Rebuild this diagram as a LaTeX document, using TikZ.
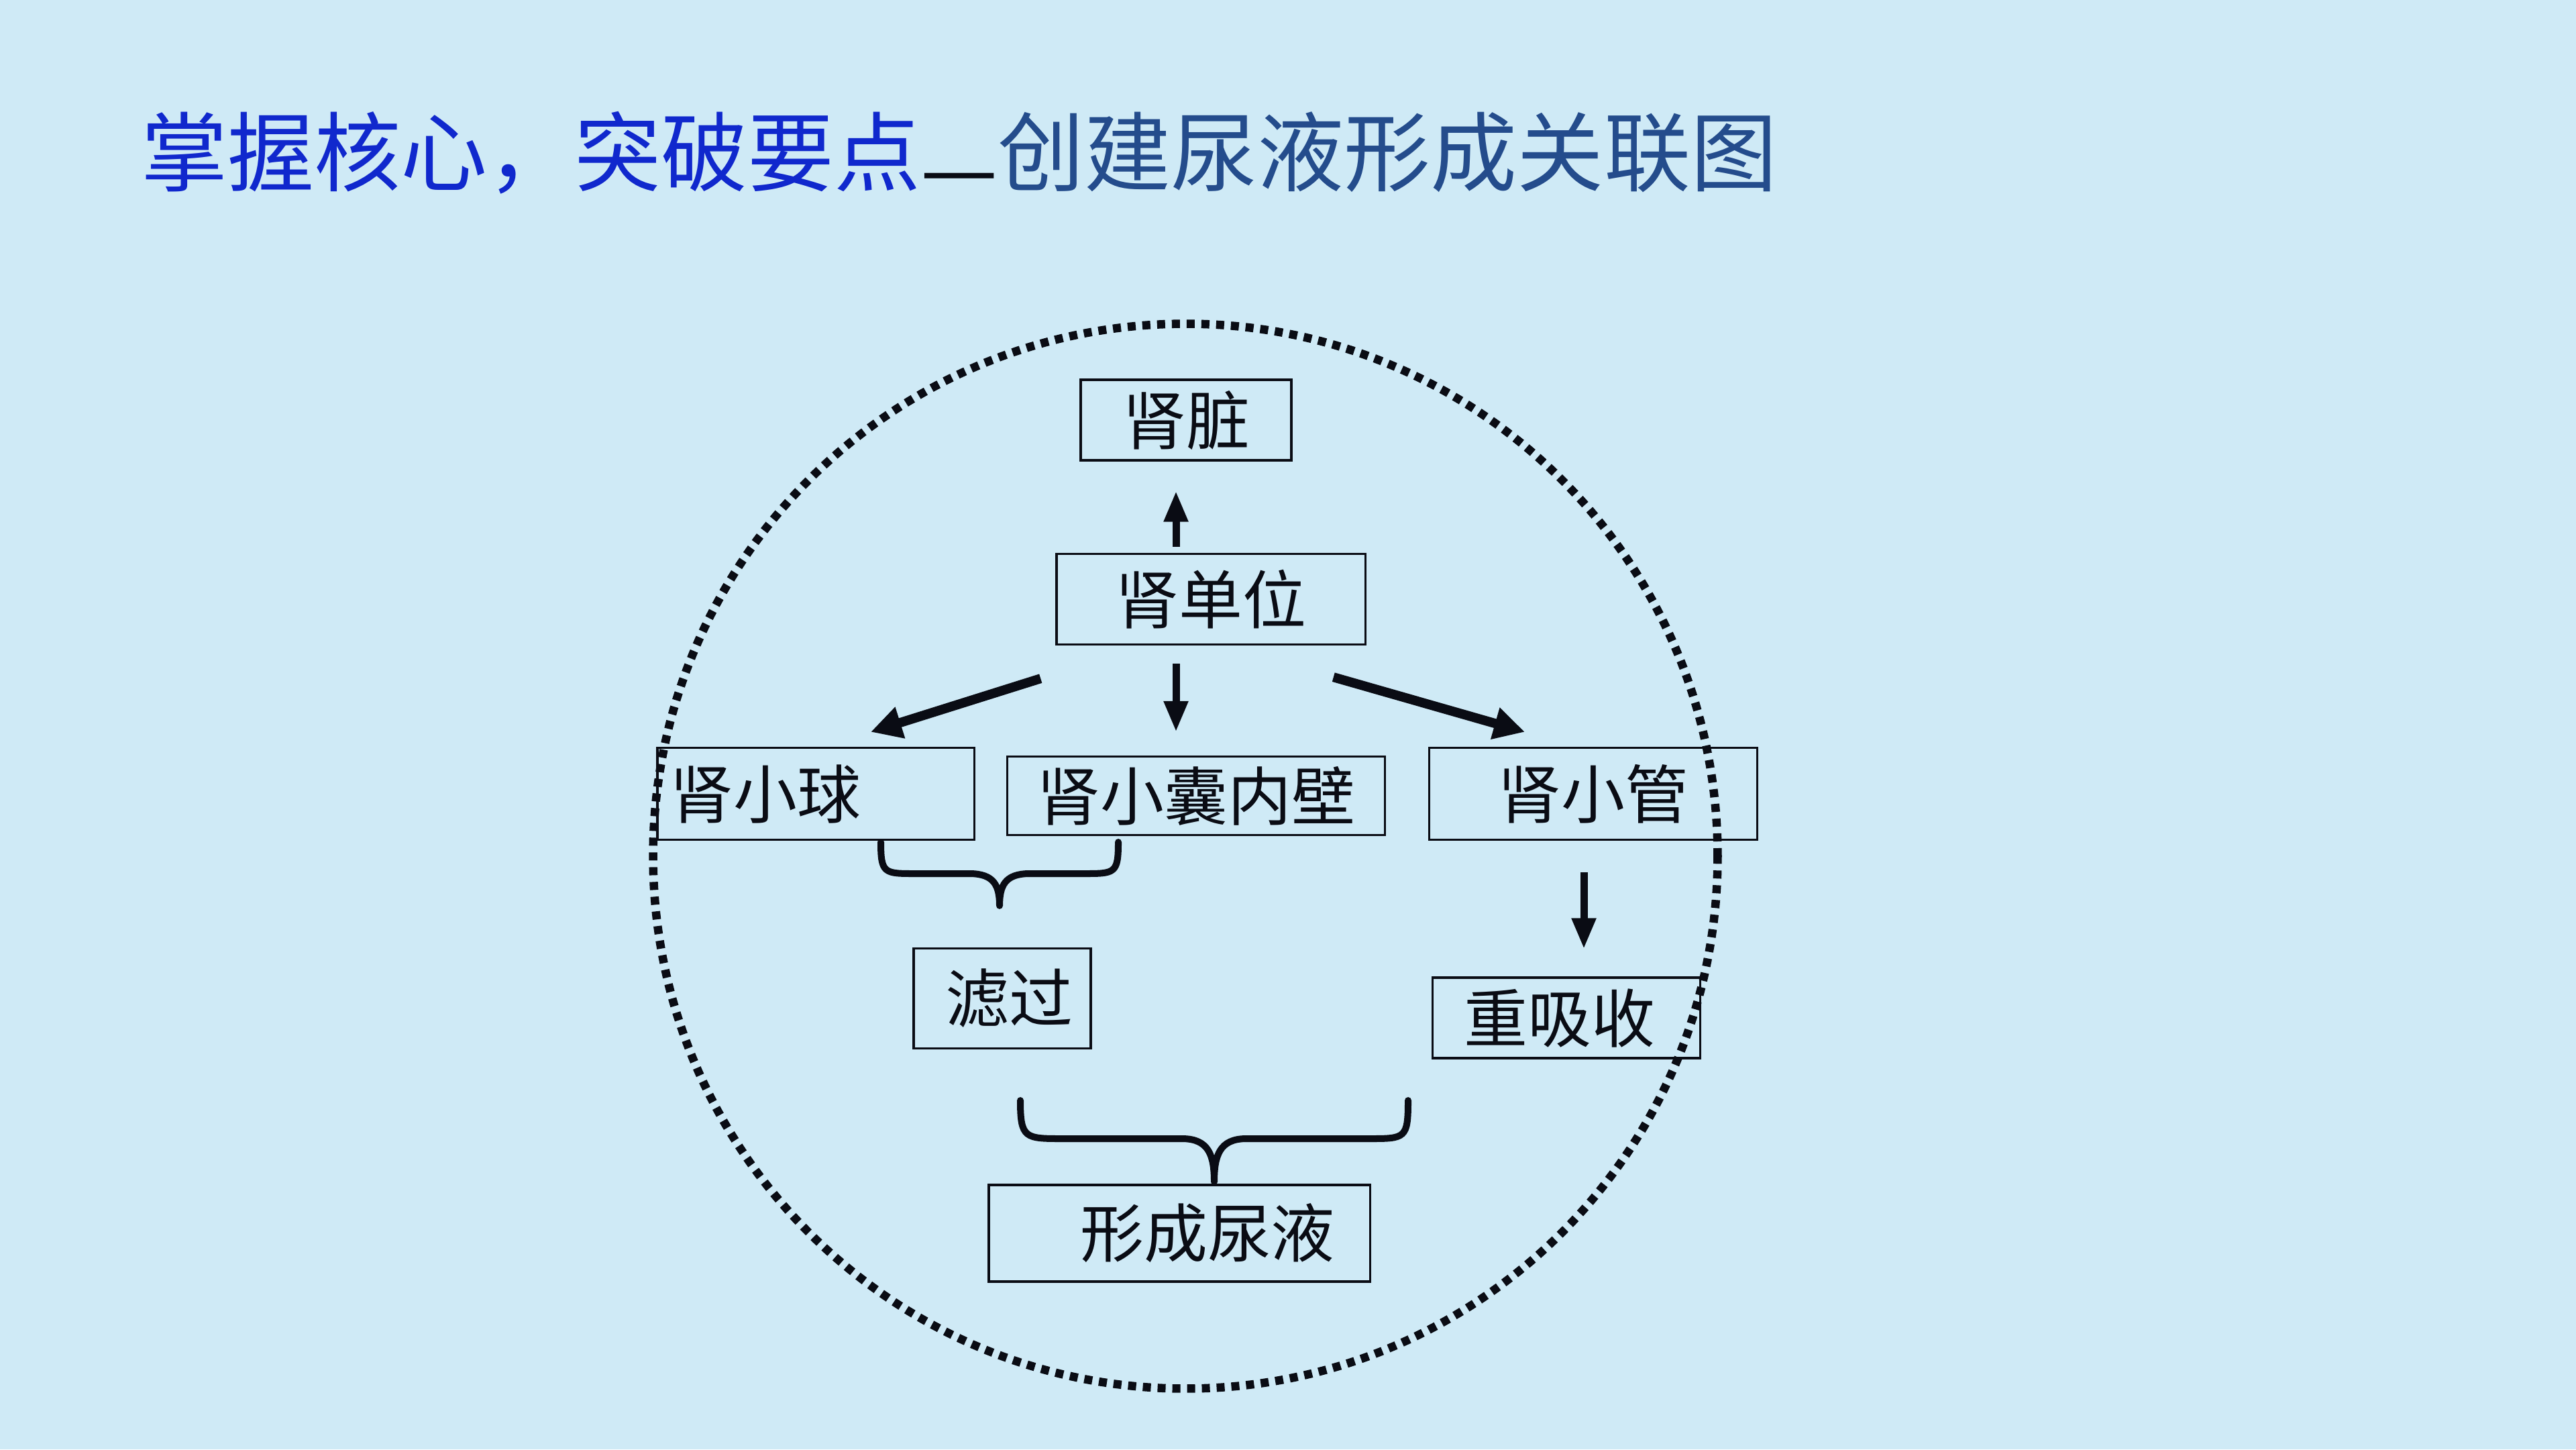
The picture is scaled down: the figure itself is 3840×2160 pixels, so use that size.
\documentclass[tikz,border=0pt]{standalone}
\usepackage{fontspec}
\newfontfamily\cjk{Noto Sans CJK SC}
\usetikzlibrary{arrows.meta,calc}
\definecolor{bgblue}{RGB}{207,234,246}
\definecolor{titleA}{RGB}{16,40,205}
\definecolor{titleB}{RGB}{36,76,140}
\definecolor{ink}{RGB}{10,12,20}
\tikzset{
  box/.style={draw=ink, line width=0.033cm, inner sep=0pt, text=ink,
    font=\cjk\fontsize{27}{30}\selectfont},
  varr/.style={draw=ink, line width=0.11cm,
    -{Triangle[length=0.46cm,width=0.34cm]}},
  darr/.style={draw=ink, line width=0.14cm,
    -{Triangle[length=0.46cm,width=0.46cm]}},
  bracepath/.style={draw=ink, line width=0.1cm, line cap=round, line join=round},
  dotring/.style={draw=ink, line width=0.125cm, dash pattern=on 0.12cm off 0.10cm}
}
\begin{document}
\begin{tikzpicture}[x=0.01cm,y=-0.01cm]
\useasboundingbox (0,0) rectangle (3840,2160);
\fill[bgblue] (0,0) rectangle (3840,2160);

% title
\node[anchor=west, inner sep=0pt, font=\cjk\fontsize{36.7}{40}\selectfont] (title) at (210,232)
  {\textcolor{titleA}{掌握核心，突破要点}\textcolor{ink}{\raisebox{-0.18em}{—}}\textcolor{titleB}{创建尿液形成关联图}};

% boxes
\node[box, minimum width=3.14cm, minimum height=1.20cm] (sz)  at (1768,626)  {肾脏};
\node[box, minimum width=4.60cm, minimum height=1.35cm] (sdw) at (1805,893)  {肾单位};
\node[box, minimum width=4.72cm, minimum height=1.37cm] (sxq) at (1216,1183) {肾小球\hspace*{1.5cm}};
\node[box, minimum width=5.63cm, minimum height=1.17cm] (sxn) at (1783,1186) {肾小囊内壁};
\node[box, minimum width=4.89cm, minimum height=1.37cm] (sxg) at (2375,1183) {肾小管};
\node[box, minimum width=2.64cm, minimum height=1.49cm] (lg)  at (1494,1488) {\hspace*{0.2cm}滤过};
\node[box, minimum width=3.99cm, minimum height=1.20cm] (cxs) at (2335,1517) {重吸收\hspace*{0.2cm}};
\node[box, minimum width=5.68cm, minimum height=1.44cm] (xcny) at (1758,1838) {\hspace*{0.84cm}形成尿液};

% arrows
\draw[varr] ($(sdw.north)+(-52,-9)$) -- ($(sz.south)+(-15,44)$);
\draw[varr] ($(sdw.south)+(-52,27)$) -- ($(sxn.north)+(-30,-35)$);
\draw[darr] ($(sdw.south west)+(-22,49)$) -- ($(sxq.north)+(82,-22)$);
\draw[darr] ($(sdw.south east)+(-49,47)$) -- ($(sxg.north)+(-102,-22)$);
\draw[varr] ($(sxg.south)+(-14,47)$) -- ($(cxs.north)+(26,-41)$);

% braces
\coordinate (b1tip) at ($(lg.north)+(-4,-62)$);
\draw[bracepath] (1313,1255) .. controls (1313,1302) and (1318,1302) .. (1365,1302)
  -- (1445,1302) .. controls (1482,1302) and (1490,1320) .. (b1tip)
  .. controls (1490,1320) and (1498,1302) .. (1535,1302)
  -- (1615,1302) .. controls (1662,1302) and (1667,1302) .. (1667,1255);
\coordinate (b2tip) at ($(xcny.north)+(52,-3)$);
\draw[bracepath] (1521,1640) .. controls (1521,1697) and (1528,1697) .. (1585,1697)
  -- (1762,1697) .. controls (1802,1697) and (1810,1722) .. (b2tip)
  .. controls (1810,1722) and (1818,1697) .. (1858,1697)
  -- (2040,1697) .. controls (2095,1697) and (2099,1697) .. (2099,1640);

% dotted ring
\node[circle, dotring, minimum size=15.86cm, inner sep=0pt] (ring) at (1767,1276) {};
\end{tikzpicture}
\end{document}
